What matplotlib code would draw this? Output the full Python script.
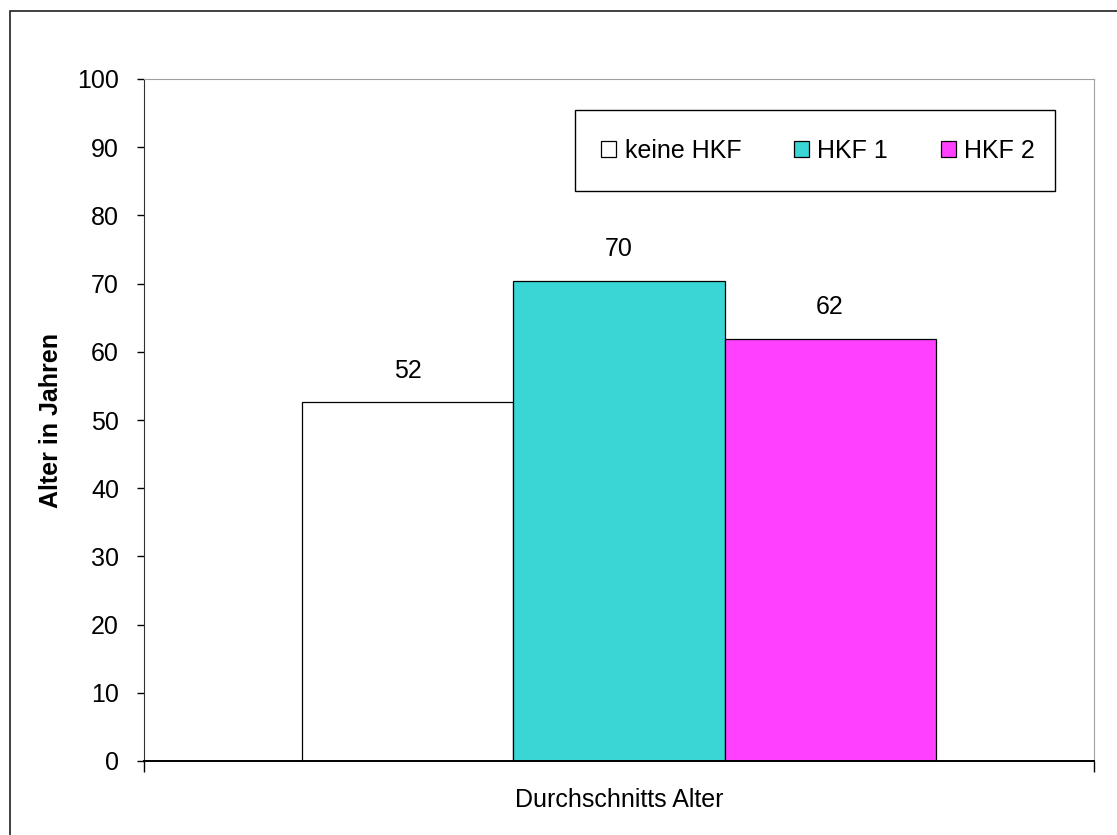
import matplotlib.pyplot as plt
from matplotlib.patches import Rectangle
import numpy as np

plt.rcParams["font.family"] = ["Liberation Sans", "DejaVu Sans"]

CATEGORY = "Durchschnitts Alter"
SERIES = ["keine HKF", "HKF 1", "HKF 2"]
VALUES = [52.6, 70.4, 61.9]
LABELS = ["52", "70", "62"]
COLORS = ["#ffffff", "#3ad5d5", "#ff40ff"]
YTICKS = [0, 10, 20, 30, 40, 50, 60, 70, 80, 90, 100]

W, H = 1117, 835
fig = plt.figure(figsize=(W / 100, H / 100), dpi=100)
ax = fig.add_axes([144 / W, 1 - 761 / H, (1094 - 144) / W, (761 - 79) / H])

# outer chart border (runs off the right and bottom edges)
fig.patches.append(Rectangle((10 / W, -0.5), 1.2, 1.5 - 11 / H, transform=fig.transFigure,
                             fill=False, edgecolor="#202020", linewidth=1.2))

pos = np.arange(len(SERIES)) - 1
bars = ax.bar(pos, VALUES, width=1.0, color=COLORS, edgecolor="black", linewidth=0.9,
              label=SERIES)
for b, lab in zip(bars, LABELS):
    ax.annotate(lab, (b.get_x() + b.get_width() / 2, b.get_height()),
                xytext=(0, 14), textcoords="offset points", ha="center", va="bottom",
                fontsize=18)

ax.set_xlim(-2.25, 2.25)
ax.set_ylim(0, 100)
ax.set_yticks(YTICKS)
ax.tick_params(axis="y", direction="out", length=5, width=1, labelsize=18, pad=13)
ax.set_xticks([-2.25, 2.25])
ax.set_xticklabels(["", ""])
ax.tick_params(axis="x", direction="out", length=8, width=1)
ax.set_xlabel(CATEGORY, fontsize=18, labelpad=8)
ax.set_ylabel("Alter in Jahren", fontsize=18, fontweight="bold", labelpad=10)

for s in ["top", "right"]:
    ax.spines[s].set_color("#a0a0a0")
ax.spines["left"].set_color("#303030")
ax.spines["bottom"].set_color("black")
ax.spines["bottom"].set_linewidth(1.4)

# legend box
fig.patches.append(Rectangle((575 / W, 1 - 191 / H), 480 / W, 81 / H, transform=fig.transFigure,
                             fill=False, edgecolor="black", linewidth=1.0))
fig.legend(handles=list(bars), labels=SERIES, loc="center",
           bbox_to_anchor=(818 / W, 1 - 151 / H), ncol=3, frameon=False,
           fontsize=18, handlelength=0.6, handleheight=0.6, handletextpad=0.35,
           columnspacing=2.1)

plt.savefig("out.png", dpi=100)
plt.close()
